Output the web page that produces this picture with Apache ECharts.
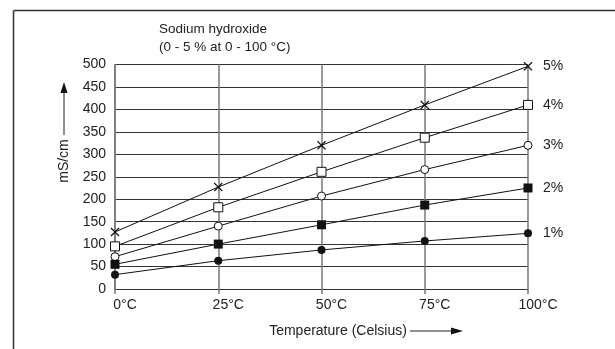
<!DOCTYPE html>
<html>
<head>
<meta charset="utf-8">
<script src="https://cdn.jsdelivr.net/npm/echarts@6/dist/echarts.min.js"></script>
<style>
html,body{margin:0;padding:0;background:#fff;}
#chart{width:615px;height:349px;}
</style>
</head>
<body>
<div id="chart"></div>
<script>
const temperatures = [0, 25, 50, 75, 100];
const tempLabels = ['0°C', '25°C', '50°C', '75°C', '100°C'];
const seriesNames = ['5%', '4%', '3%', '2%', '1%'];
const naoh5 = [127, 227, 320, 410, 496];
const naoh4 = [95, 182, 261, 337, 410];
const naoh3 = [72, 140, 207, 266, 320];
const naoh2 = [55, 100, 143, 187, 225];
const naoh1 = [32, 63, 87, 107, 124];
const yTicks = [0, 50, 100, 150, 200, 250, 300, 350, 400, 450, 500];

const chart = echarts.init(document.getElementById('chart'), null, {renderer: 'canvas'});
const FONT = '"Liberation Sans", Arial, Helvetica, sans-serif';
const crossPath = 'path://M0,1 L1,0 L5,4 L9,0 L10,1 L6,5 L10,9 L9,10 L5,6 L1,10 L0,9 L4,5 Z';

const styles = [
  {symbol: crossPath, size: 9, fill: '#111'},
  {symbol: 'rect', size: 9, fill: '#fff'},
  {symbol: 'circle', size: 8, fill: '#fff'},
  {symbol: 'rect', size: 9, fill: '#111'},
  {symbol: 'circle', size: 8, fill: '#111'}
];
const allValues = [naoh5, naoh4, naoh3, naoh2, naoh1];

const series = allValues.map((vals, i) => ({
  name: seriesNames[i],
  type: 'line',
  data: temperatures.map((t, j) => [t, vals[j]]),
  symbol: styles[i].symbol,
  symbolSize: styles[i].size,
  showAllSymbol: true,
  lineStyle: {color: '#111', width: 1},
  itemStyle: {color: styles[i].fill, borderColor: '#111', borderWidth: styles[i].fill === '#fff' ? 1 : 0},
  emphasis: {disabled: true},
  animation: false,
  z: 3,
  endLabel: {
    show: true,
    formatter: '{a}',
    distance: 15,
    color: '#222',
    fontSize: 14,
    fontFamily: FONT
  }
}));

chart.setOption({
  backgroundColor: '#fff',
  animation: false,
  title: {
    text: 'Sodium hydroxide\n(0 - 5 % at 0 - 100 °C)',
    left: 154,
    top: 15,
    textStyle: {fontSize: 13.5, fontWeight: 'normal', color: '#222', fontFamily: FONT, lineHeight: 18}
  },
  grid: {left: 115, right: 87, top: 64.5, bottom: 60, containLabel: false},
  xAxis: {
    type: 'value',
    min: 0, max: 100, interval: 25,
    axisLine: {show: true, lineStyle: {color: '#333', width: 1}},
    axisTick: {show: true, length: 5, lineStyle: {color: '#777', width: 1.5}},
    axisLabel: {
      margin: 9, fontSize: 14, color: '#222', fontFamily: FONT,
      padding: [0, 0, 0, 20],
      formatter: v => tempLabels[temperatures.indexOf(v)] || ''
    },
    splitLine: {show: true, lineStyle: {color: '#777', width: 1.5}}
  },
  yAxis: {
    type: 'value',
    min: 0, max: 500, interval: 50,
    axisLine: {show: true, lineStyle: {color: '#777', width: 1.5}},
    axisTick: {show: false},
    axisLabel: {
      margin: 9, fontSize: 14, color: '#222', fontFamily: FONT,
      formatter: v => yTicks.includes(v) ? String(v) : ''
    },
    splitLine: {show: true, lineStyle: {color: '#333', width: 1}}
  },
  series: series,
  graphic: [
    {type: 'line', shape: {x1: 13.5, y1: 10.5, x2: 615, y2: 10.5}, style: {stroke: '#333', lineWidth: 1.5}, silent: true},
    {type: 'line', shape: {x1: 13.5, y1: 10.5, x2: 13.5, y2: 349}, style: {stroke: '#333', lineWidth: 1.5}, silent: true},
    {type: 'text', x: 64, y: 161, rotation: Math.PI / 2,
      style: {text: 'mS/cm', fontSize: 14, fill: '#222', fontFamily: FONT, textAlign: 'center', textVerticalAlign: 'middle'}, silent: true},
    {type: 'line', shape: {x1: 64, y1: 135, x2: 64, y2: 92}, style: {stroke: '#222', lineWidth: 1}, silent: true},
    {type: 'polygon', shape: {points: [[60.5, 93], [67.5, 93], [64, 82]]}, style: {fill: '#111'}, silent: true},
    {type: 'text', x: 338, y: 331,
      style: {text: 'Temperature (Celsius)', fontSize: 14, fill: '#222', fontFamily: FONT, textAlign: 'center', textVerticalAlign: 'middle'}, silent: true},
    {type: 'line', shape: {x1: 410, y1: 331, x2: 452, y2: 331}, style: {stroke: '#222', lineWidth: 1}, silent: true},
    {type: 'polygon', shape: {points: [[451, 327.5], [451, 334.5], [463, 331]]}, style: {fill: '#111'}, silent: true}
  ]
});
</script>
</body>
</html>
